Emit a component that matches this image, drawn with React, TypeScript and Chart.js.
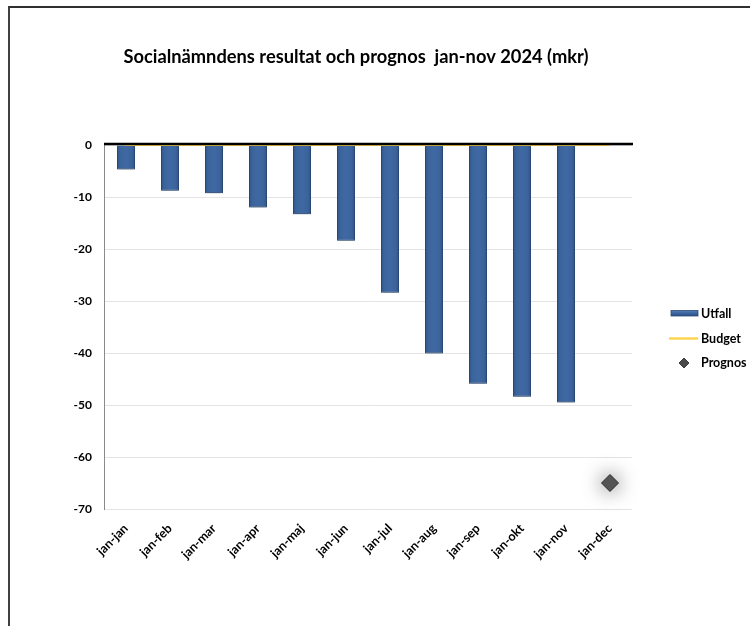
import React, { useEffect, useRef } from "react";
import { Chart, registerables } from "chart.js";

Chart.register(...registerables);

const title = "Socialnämndens resultat och prognos  jan-nov 2024 (mkr)";
const categories = [
  "jan-jan", "jan-feb", "jan-mar", "jan-apr", "jan-maj", "jan-jun",
  "jan-jul", "jan-aug", "jan-sep", "jan-okt", "jan-nov", "jan-dec",
];
const utfall: (number | null)[] = [-4.7, -8.8, -9.3, -12.0, -13.3, -18.4, -28.4, -40.1, -45.9, -48.4, -49.5, null];
const budget: number[] = [0, 0, 0, 0, 0, 0, 0, 0, 0, 0, 0, 0];
const prognos: (number | null)[] = [null, null, null, null, null, null, null, null, null, null, null, -65];
const legendLabels = ["Utfall", "Budget", "Prognos"];
const yMin = -70;
const yMax = 0;
const yStep = 10;

const FONT = "Lato, 'Open Sans', 'DejaVu Sans', sans-serif";
const BAR_PCT = 0.41;

export default function App() {
  const ref = useRef<HTMLCanvasElement | null>(null);

  useEffect(() => {
    if (!ref.current) return;

    const decor = {
      id: "decor",
      beforeDatasetDraw(chart: any, args: any) {
        const ctx = chart.ctx;
        ctx.save();
        if (args.index === 0) {
          ctx.shadowColor = "rgba(0,0,0,0.35)";
          ctx.shadowBlur = 3;
          ctx.shadowOffsetY = 1.5;
        } else if (args.index === 2) {
          ctx.shadowColor = "rgba(0,0,0,0.7)";
          ctx.shadowBlur = 20;
        }
      },
      afterDatasetDraw(chart: any) {
        chart.ctx.restore();
      },
      afterDatasetsDraw(chart: any) {
        const ctx = chart.ctx;
        const { left, right } = chart.chartArea;
        const y0 = chart.scales.y.getPixelForValue(0);
        ctx.save();
        ctx.strokeStyle = "#000";
        ctx.lineWidth = 2.5;
        ctx.beginPath();
        ctx.moveTo(left, y0 - 1);
        ctx.lineTo(right + 1, y0 - 1);
        ctx.stroke();
        ctx.restore();
      },
      afterDraw(chart: any) {
        const ctx = chart.ctx;
        const { right } = chart.chartArea;
        ctx.save();
        // title
        ctx.fillStyle = "#000";
        ctx.font = `bold 18.3px ${FONT}`;
        ctx.textAlign = "center";
        ctx.textBaseline = "middle";
        ctx.fillText(title, 356, 57);

        // legend
        ctx.font = `bold 12.5px ${FONT}`;
        ctx.textAlign = "left";
        const tx = right + 69;
        // Utfall
        const g = ctx.createLinearGradient(0, 310, 0, 316);
        g.addColorStop(0, "#5a82bb");
        g.addColorStop(0.5, "#3d66a0");
        g.addColorStop(1, "#2c4f82");
        ctx.fillStyle = g;
        ctx.fillRect(right + 39, 310.5, 27, 5.5);
        ctx.strokeStyle = "#2b4a78";
        ctx.lineWidth = 0.8;
        ctx.strokeRect(right + 39, 310.5, 27, 5.5);
        ctx.fillStyle = "#000";
        ctx.fillText(legendLabels[0], tx, 313.5);
        // Budget
        ctx.strokeStyle = "#FFD54F";
        ctx.lineWidth = 2.5;
        ctx.beginPath();
        ctx.moveTo(right + 37, 338.5);
        ctx.lineTo(right + 66, 338.5);
        ctx.stroke();
        ctx.fillText(legendLabels[1], tx, 338.5);
        // Prognos
        const cx = right + 52;
        const cy = 363;
        const r = 5;
        ctx.beginPath();
        ctx.moveTo(cx - r, cy);
        ctx.lineTo(cx, cy - r);
        ctx.lineTo(cx + r, cy);
        ctx.lineTo(cx, cy + r);
        ctx.closePath();
        ctx.fillStyle = "#4a4a4a";
        ctx.fill();
        ctx.strokeStyle = "#222";
        ctx.lineWidth = 0.8;
        ctx.stroke();
        ctx.fillStyle = "#000";
        ctx.fillText(legendLabels[2], tx, 363);
        ctx.restore();
      },
    };

    const chart = new Chart(ref.current, {
      type: "bar",
      data: {
        labels: categories,
        datasets: [
          {
            type: "bar",
            label: "Utfall",
            data: utfall,
            order: 3,
            barPercentage: BAR_PCT,
            categoryPercentage: 1,
            borderWidth: 1,
            borderColor: "#2d4f80",
            backgroundColor: (c: any) => {
              const ch = c.chart;
              const xs = ch.scales?.x;
              if (!xs || c.dataIndex === undefined || !ch.chartArea) return "#3b639b";
              const cx = xs.getPixelForValue(c.dataIndex);
              const w = (xs.width / categories.length) * BAR_PCT;
              const g = ch.ctx.createLinearGradient(cx - w / 2, 0, cx + w / 2, 0);
              g.addColorStop(0, "#2f5387");
              g.addColorStop(0.18, "#3b639c");
              g.addColorStop(0.5, "#4068a2");
              g.addColorStop(0.82, "#3b639c");
              g.addColorStop(1, "#2f5387");
              return g;
            },
          } as any,
          {
            type: "line",
            label: "Budget",
            data: budget,
            order: 2,
            borderColor: "#FFD54F",
            borderWidth: 2,
            pointRadius: 0,
            clip: false,
          } as any,
          {
            type: "line",
            label: "Prognos",
            data: prognos,
            order: 1,
            showLine: false,
            pointStyle: "rectRot",
            pointRadius: 8.5,
            pointBackgroundColor: "#575757",
            pointBorderColor: "#2a2a2a",
            pointBorderWidth: 1,
            clip: false,
          } as any,
        ],
      },
      options: {
        animation: false,
        responsive: false,
        devicePixelRatio: 1,
        layout: { padding: { top: 145, right: 118, bottom: 0, left: 0 } },
        plugins: {
          legend: { display: false },
          title: { display: false },
          tooltip: { enabled: false },
        },
        scales: {
          x: {
            offset: true,
            grid: { display: false },
            border: { display: false },
            ticks: {
              color: "#000",
              font: { family: FONT, size: 12.5, weight: "bold" },
              maxRotation: 45,
              minRotation: 45,
              padding: 4,
            },
            afterFit: (s: any) => {
              s.height = 117;
            },
          },
          y: {
            min: yMin,
            max: yMax,
            grid: { color: "#e4e4e4", lineWidth: 1, drawTicks: false },
            border: { display: true, color: "#8a8a8a", width: 1 },
            ticks: {
              stepSize: yStep,
              color: "#000",
              padding: 12,
              font: { family: FONT, size: 12, weight: "bold" },
            },
            afterFit: (s: any) => {
              s.width = 104;
            },
          },
        },
      } as any,
      plugins: [decor],
    });

    return () => chart.destroy();
  }, []);

  return (
    <div style={{ position: "absolute", left: 0, top: 0, width: 750, height: 626, background: "#fff" }}>
      <div
        style={{
          position: "absolute",
          left: 8,
          top: 6,
          right: 0,
          bottom: 0,
          borderLeft: "2px solid #404040",
          borderTop: "2px solid #303030",
        }}
      />
      <canvas ref={ref} width={750} height={626} style={{ position: "absolute", left: 0, top: 0, display: "block" }} />
    </div>
  );
}
